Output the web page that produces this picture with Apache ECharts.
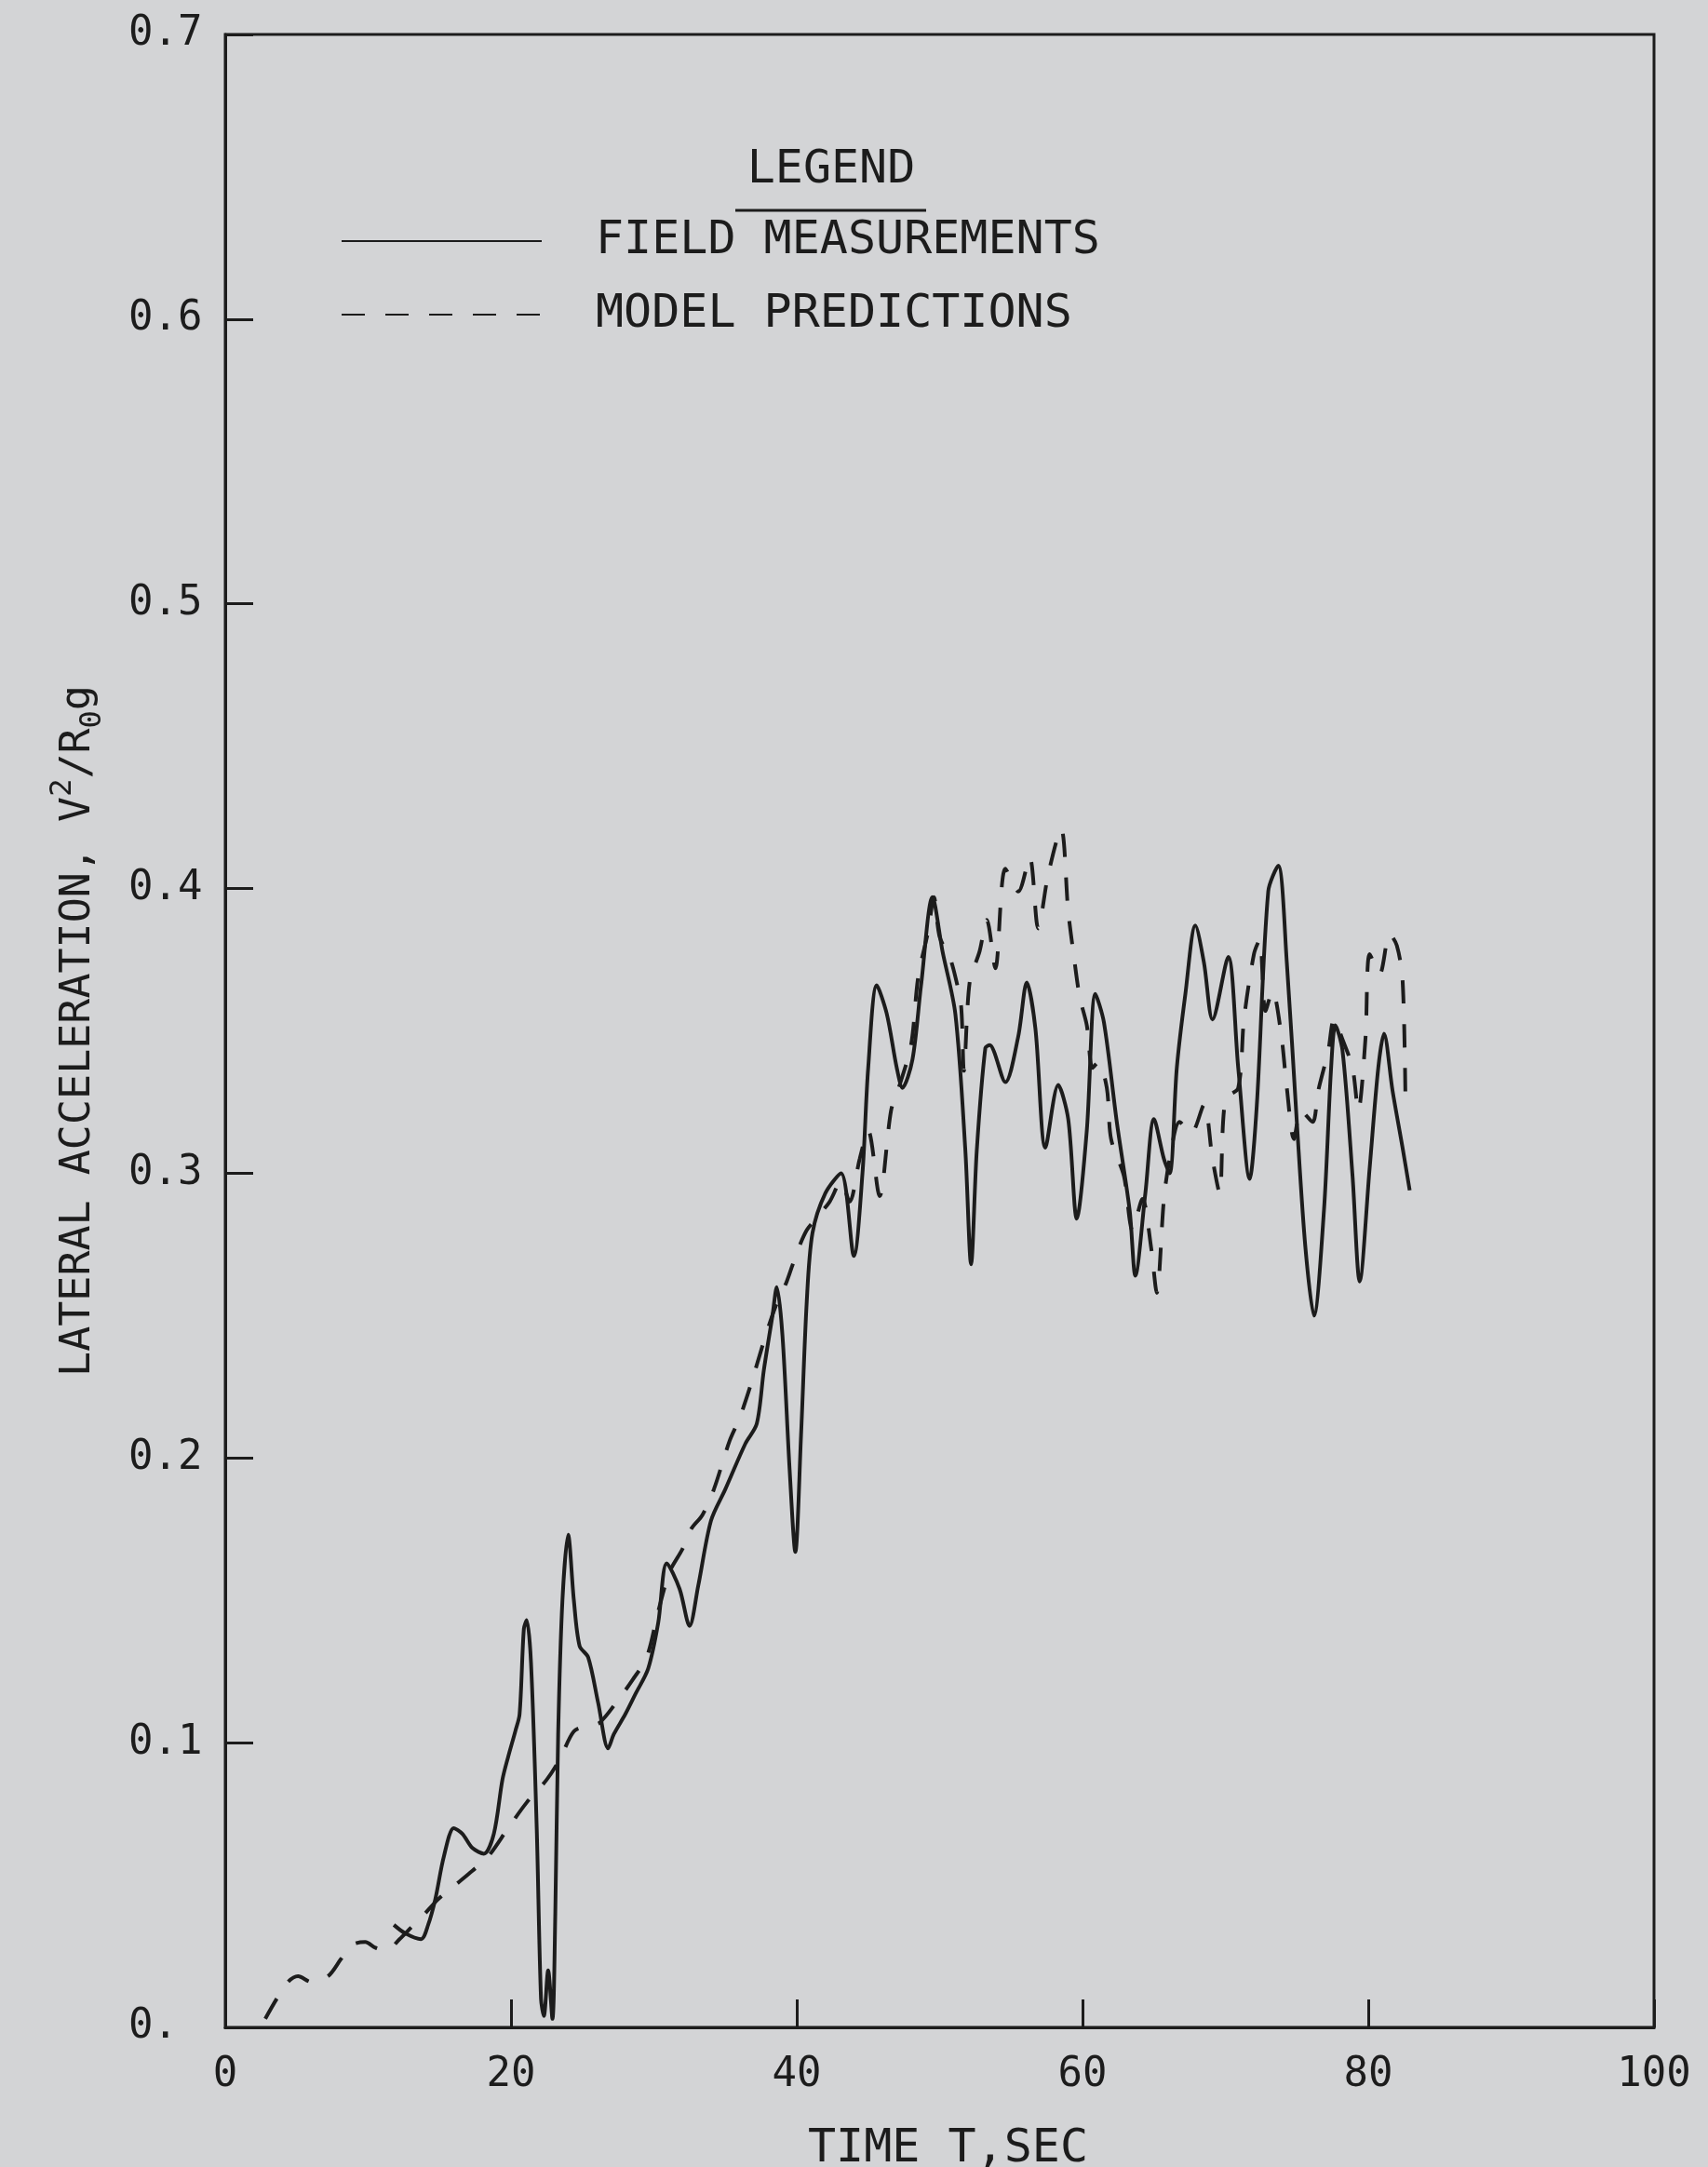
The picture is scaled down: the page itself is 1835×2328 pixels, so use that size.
<!DOCTYPE html>
<html>
<head>
<meta charset="utf-8">
<script src="https://cdn.jsdelivr.net/npm/echarts@6/dist/echarts.min.js"></script>
<style>
  html, body { margin: 0; padding: 0; background: #d3d4d6; }
  #chart { width: 1835px; height: 2328px; }
</style>
</head>
<body>
<div id="chart"></div>
<script>
// Field measurements: time (s) and lateral acceleration V^2/(R0 g)
const fieldTime = [
  11.8, 12.6, 13.7, 14.2, 14.7, 15.3, 16.0, 16.6, 17.3, 18.1, 18.8, 19.4, 19.8, 20.3, 20.6, 20.9, 21.1, 21.4, 21.8, 22.1,
  22.3, 22.6, 22.9, 23.1, 23.3, 23.6, 24.0, 24.4, 24.8, 25.4, 26.1, 26.8, 27.2, 28.0, 28.7, 29.6, 30.3, 30.9, 31.8, 32.5,
  33.1, 34.0, 35.0, 36.4, 37.2, 37.7, 38.3, 38.6, 39.0, 39.5, 39.9, 40.3, 40.7, 41.1, 42.0, 43.1, 44.0, 44.6, 45.0, 45.6,
  46.3, 47.0, 47.4, 48.1, 48.7, 49.5, 50.2, 51.1, 51.8, 52.2, 52.6, 53.2, 53.5, 54.6, 55.5, 56.1, 56.7, 57.4, 58.3, 59.0,
  59.6, 60.3, 60.9, 61.5, 62.4, 63.3, 63.7, 64.4, 65.0, 65.7, 66.1, 66.6, 67.2, 67.9, 68.5, 69.1, 70.2, 70.9, 71.7, 72.2,
  73.0, 73.7, 74.3, 75.0, 75.6, 76.2, 76.9, 77.4, 77.7, 78.2, 78.9, 79.4, 80.1, 80.7, 81.1, 81.7, 82.4, 82.9
];
const fieldAccel = [
  0.036, 0.033, 0.031, 0.036, 0.045, 0.060, 0.070, 0.068, 0.063, 0.061, 0.068, 0.087, 0.095, 0.104, 0.110, 0.140, 0.143, 0.128, 0.070, 0.010,
  0.004, 0.020, 0.003, 0.040, 0.103, 0.150, 0.173, 0.150, 0.134, 0.130, 0.114, 0.098, 0.103, 0.110, 0.117, 0.126, 0.142, 0.163, 0.154, 0.141,
  0.155, 0.178, 0.189, 0.205, 0.212, 0.231, 0.250, 0.260, 0.243, 0.196, 0.167, 0.208, 0.255, 0.279, 0.293, 0.300, 0.271, 0.300, 0.337, 0.366,
  0.356, 0.337, 0.330, 0.340, 0.366, 0.397, 0.378, 0.356, 0.308, 0.268, 0.308, 0.344, 0.345, 0.332, 0.348, 0.367, 0.351, 0.309, 0.331, 0.319,
  0.284, 0.315, 0.363, 0.353, 0.318, 0.287, 0.264, 0.293, 0.319, 0.305, 0.300, 0.337, 0.363, 0.387, 0.374, 0.354, 0.376, 0.337, 0.298, 0.324,
  0.399, 0.408, 0.374, 0.318, 0.274, 0.250, 0.287, 0.337, 0.352, 0.343, 0.299, 0.262, 0.302, 0.337, 0.349, 0.329, 0.309, 0.294
];

// Model predictions: time (s) and lateral acceleration V^2/(R0 g)
const modelTime = [
  2.8, 3.6, 4.4, 5.1, 6.0, 7.2, 8.1, 8.9, 9.8, 10.5, 11.3, 12.2, 13.0, 13.8, 14.9, 16.1, 17.3, 18.4, 19.8, 21.1,
  22.5, 23.4, 24.4, 25.4, 26.2, 27.5, 28.5, 29.5, 30.3, 31.1, 32.0, 32.6, 33.4, 34.2, 35.3, 36.0, 36.8, 37.7, 38.5, 39.3,
  40.0, 40.7, 41.5, 42.3, 43.1, 43.7, 44.4, 45.0, 45.8, 46.6, 47.2, 48.0, 48.5, 49.2, 49.6, 50.0, 50.7, 51.1, 51.5, 51.7,
  52.1, 52.8, 53.3, 53.9, 54.6, 55.5, 56.3, 56.9, 57.6, 58.5, 59.0, 59.4, 59.8, 60.3, 60.7, 61.1, 61.7, 62.0, 62.9, 63.5,
  64.2, 64.8, 65.2, 65.7, 66.1, 66.8, 67.6, 68.5, 69.1, 69.6, 70.0, 70.9, 71.3, 72.0, 72.4, 72.8, 73.3, 73.9, 74.3, 74.8,
  75.3, 76.1, 76.5, 77.2, 77.6, 78.2, 78.9, 79.3, 79.8, 80.1, 80.8, 81.5, 82.0, 82.4, 82.6
];
const modelAccel = [
  0.003, 0.010, 0.016, 0.018, 0.016, 0.018, 0.024, 0.029, 0.030, 0.028, 0.027, 0.031, 0.035, 0.039, 0.045, 0.050, 0.055, 0.060, 0.070, 0.079,
  0.087, 0.094, 0.104, 0.106, 0.107, 0.115, 0.122, 0.130, 0.146, 0.160, 0.168, 0.175, 0.180, 0.189, 0.206, 0.214, 0.226, 0.241, 0.253, 0.262,
  0.272, 0.280, 0.285, 0.290, 0.297, 0.290, 0.305, 0.315, 0.292, 0.322, 0.331, 0.345, 0.369, 0.385, 0.397, 0.383, 0.376, 0.369, 0.359, 0.336,
  0.367, 0.378, 0.389, 0.372, 0.407, 0.399, 0.411, 0.386, 0.405, 0.421, 0.392, 0.376, 0.362, 0.352, 0.337, 0.339, 0.330, 0.312, 0.299, 0.280,
  0.291, 0.274, 0.258, 0.291, 0.305, 0.318, 0.314, 0.324, 0.305, 0.293, 0.326, 0.330, 0.354, 0.377, 0.382, 0.357, 0.364, 0.349, 0.330, 0.312,
  0.322, 0.318, 0.329, 0.343, 0.354, 0.347, 0.337, 0.322, 0.347, 0.377, 0.370, 0.384, 0.380, 0.368, 0.327
];

// Axis tick labels
const xTickValues = [0, 20, 40, 60, 80, 100];
const yTickLabels = ['0.', '0.1', '0.2', '0.3', '0.4', '0.5', '0.6', '0.7'];

const seriesNames = ['FIELD MEASUREMENTS', 'MODEL PREDICTIONS'];

const INK = '#1c1c1c';
const FONT = 'DejaVu Sans Mono';

const zip = (xs, ys) => xs.map((x, i) => [x, ys[i]]);

const chart = echarts.init(document.getElementById('chart'), null, { renderer: 'canvas' });

chart.setOption({
  backgroundColor: '#d3d4d6',
  animation: false,
  textStyle: { fontFamily: FONT, color: INK },
  grid: {
    left: 242, top: 37, right: 58, bottom: 150,
    outerBoundsMode: 'none', containLabel: false,
    show: true, borderColor: INK, borderWidth: 3, backgroundColor: 'transparent'
  },
  xAxis: {
    type: 'value', min: 0, max: 100, interval: 20,
    name: 'TIME T,SEC', nameLocation: 'middle', nameGap: 106,
    nameTextStyle: { fontFamily: FONT, fontSize: 50, color: INK, padding: [0, 0, 0, 18] },
    axisLine: { show: true, lineStyle: { color: INK, width: 3 } },
    axisTick: { show: true, inside: true, length: 30, lineStyle: { color: INK, width: 3 } },
    axisLabel: {
      margin: 30, fontFamily: FONT, fontSize: 44, color: INK,
      formatter: v => (xTickValues.indexOf(v) >= 0 ? String(v) : '')
    },
    splitLine: { show: false }
  },
  yAxis: {
    type: 'value', min: 0, max: 0.7, interval: 0.1,
    name: '{m|LATERAL ACCELERATION, V}{sup|2}{m|/R}{sub|0}{m|g}',
    nameLocation: 'middle', nameGap: 126,
    nameTextStyle: {
      fontFamily: FONT, color: INK,
      rich: {
        m: { fontFamily: FONT, fontSize: 45, color: INK, lineHeight: 64 },
        sup: { fontFamily: FONT, fontSize: 32, color: INK, verticalAlign: 'top', lineHeight: 32 },
        sub: { fontFamily: FONT, fontSize: 32, color: INK, verticalAlign: 'bottom', lineHeight: 32 }
      }
    },
    axisLine: { show: true, lineStyle: { color: INK, width: 3 } },
    axisTick: { show: true, inside: true, length: 30, lineStyle: { color: INK, width: 3 } },
    axisLabel: {
      margin: 104, align: 'left', fontFamily: FONT, fontSize: 44, color: INK,
      formatter: v => yTickLabels[Math.round(v * 10)]
    },
    splitLine: { show: false }
  },
  legend: {
    data: seriesNames,
    orient: 'vertical',
    left: 361, top: 229,
    itemWidth: 215, itemHeight: 10, itemGap: 29,
    itemStyle: { opacity: 0 },
    textStyle: { fontFamily: FONT, fontSize: 50, color: INK, lineHeight: 50, padding: [0, 0, 0, 53] },
    selectedMode: false
  },
  graphic: [
    {
      type: 'text', x: 893, y: 183,
      style: { text: 'LEGEND', align: 'center', verticalAlign: 'middle',
               font: '50px "DejaVu Sans Mono"', fill: INK }
    },
    {
      type: 'line',
      shape: { x1: 790, y1: 226, x2: 995, y2: 226 },
      style: { stroke: INK, lineWidth: 3 }
    }
  ],
  series: [
    {
      name: seriesNames[0], type: 'line', data: zip(fieldTime, fieldAccel),
      showSymbol: false, symbol: 'none', smooth: 0.3,
      lineStyle: { color: INK, width: 4, type: 'solid' },
      itemStyle: { color: INK }
    },
    {
      name: seriesNames[1], type: 'line', data: zip(modelTime, modelAccel),
      showSymbol: false, symbol: 'none', smooth: 0.3,
      lineStyle: { color: INK, width: 4, type: [25, 22] },
      itemStyle: { color: INK }
    }
  ]
});
</script>
</body>
</html>
